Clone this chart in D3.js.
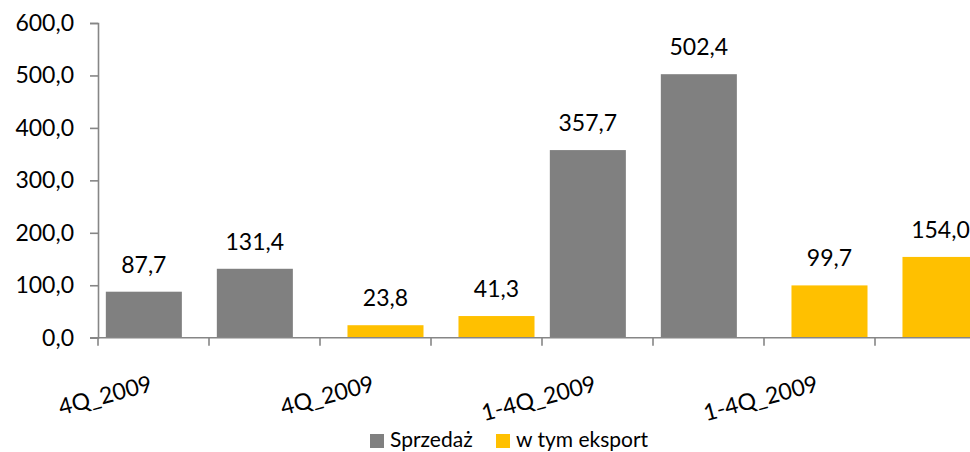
<!DOCTYPE html>
<html>
<head>
<meta charset="utf-8">
<script src="https://cdn.jsdelivr.net/npm/d3@7"></script>
<style>
  body { margin: 0; background: #fff; }
  text { font-family: Lato, "Open Sans", sans-serif; fill: #000; }
</style>
</head>
<body>
<div id="container"></div>
<script>
// categories (only every other label is shown, like the original)
let categories = ["4Q_2009", "4Q_2010", "4Q_2009 ", "4Q_2010 ", "1-4Q_2009", "1-4Q_2010", "1-4Q_2009 ", "1-4Q_2010 "];
let sprzedaz = [87.7, 131.4, null, null, 357.7, 502.4, null, null];
let eksport = [null, null, 23.8, 41.3, null, null, 99.7, 154.0];
let seriesNames = ["Sprzedaż", "w tym eksport"];
let seriesColors = ["#808080", "#FFC000"];
let yTicks = [0, 100, 200, 300, 400, 500, 600];

let w = 970;
let h = 452;
let viz = d3.select("#container")
  .append("svg")
    .attr("width", w)
    .attr("height", h)
;

let x0 = 98, x1 = 986;
let xScale = d3.scaleBand().domain(categories).range([x0, x1]).padding(0);
let yScale = d3.scaleLinear().domain([0, 600]).range([337.7, 23]);
let step = xScale.step();
let barW = step * 0.685;
let offsets = [-step * 0.087, step * 0.09];

let fmt = function(v) { return d3.format(".1f")(v).replace(".", ","); };

// bars
let series = [sprzedaz, eksport];
series.forEach(function(values, s) {
  let data = categories.map(function(c, i) { return {cat: c, v: values[i]}; })
    .filter(function(d) { return d.v != null; });
  let g = viz.append("g").attr("class", "series" + s);
  g.selectAll("rect").data(data).enter()
    .append("rect")
      .attr("x", function(d) { return xScale(d.cat) + step / 2 + offsets[s] - barW / 2; })
      .attr("y", function(d) { return yScale(d.v); })
      .attr("width", barW)
      .attr("height", function(d) { return yScale(0) - yScale(d.v); })
      .attr("fill", seriesColors[s])
  ;
  g.selectAll("text").data(data).enter()
    .append("text")
      .attr("x", function(d) { return xScale(d.cat) + step / 2 + offsets[s]; })
      .attr("y", function(d) { return yScale(d.v) - 19; })
      .attr("text-anchor", "middle")
      .attr("font-size", 23)
      .text(function(d) { return fmt(d.v); })
  ;
});

// y axis
let yAxis = viz.append("g")
  .attr("transform", "translate(" + x0 + ",0)")
  .call(d3.axisLeft(yScale).tickValues(yTicks).tickSize(8).tickPadding(16).tickFormat(fmt));
yAxis.selectAll("text").attr("font-size", 23).style("font-family", "Lato, sans-serif");
yAxis.select(".domain").attr("stroke", "#868686").attr("stroke-width", 1.6);
yAxis.selectAll(".tick line").attr("stroke", "#868686").attr("stroke-width", 1.6);

// x axis
let xAxis = viz.append("g")
  .attr("transform", "translate(0," + yScale(0) + ")");
xAxis.append("line")
  .attr("x1", x0 - 8).attr("x2", x1)
  .attr("stroke", "#868686").attr("stroke-width", 1.6);
xAxis.selectAll(".xtick").data(categories).enter()
  .append("line")
    .attr("class", "xtick")
    .attr("x1", function(d) { return xScale(d); })
    .attr("x2", function(d) { return xScale(d); })
    .attr("y1", 0).attr("y2", 8)
    .attr("stroke", "#868686").attr("stroke-width", 1.6);
xAxis.selectAll(".xlabel").data(categories.filter(function(d, i) { return i % 2 == 0; })).enter()
  .append("text")
    .attr("class", "xlabel")
    .attr("text-anchor", "end")
    .attr("font-size", 23)
    .attr("transform", function(d) {
      return "translate(" + (xScale(d) + step / 2) + ",53) rotate(-15)";
    })
    .text(function(d) { return d.trim(); })
;

// legend
let legend = viz.append("g").attr("transform", "translate(370,433)");
let lx = [0, 126];
seriesNames.forEach(function(name, i) {
  legend.append("rect")
    .attr("x", lx[i]).attr("y", 1)
    .attr("width", 14).attr("height", 14)
    .attr("fill", seriesColors[i]);
  legend.append("text")
    .attr("x", lx[i] + 20).attr("y", 14)
    .attr("font-size", 21)
    .text(name);
});
</script>
</body>
</html>
